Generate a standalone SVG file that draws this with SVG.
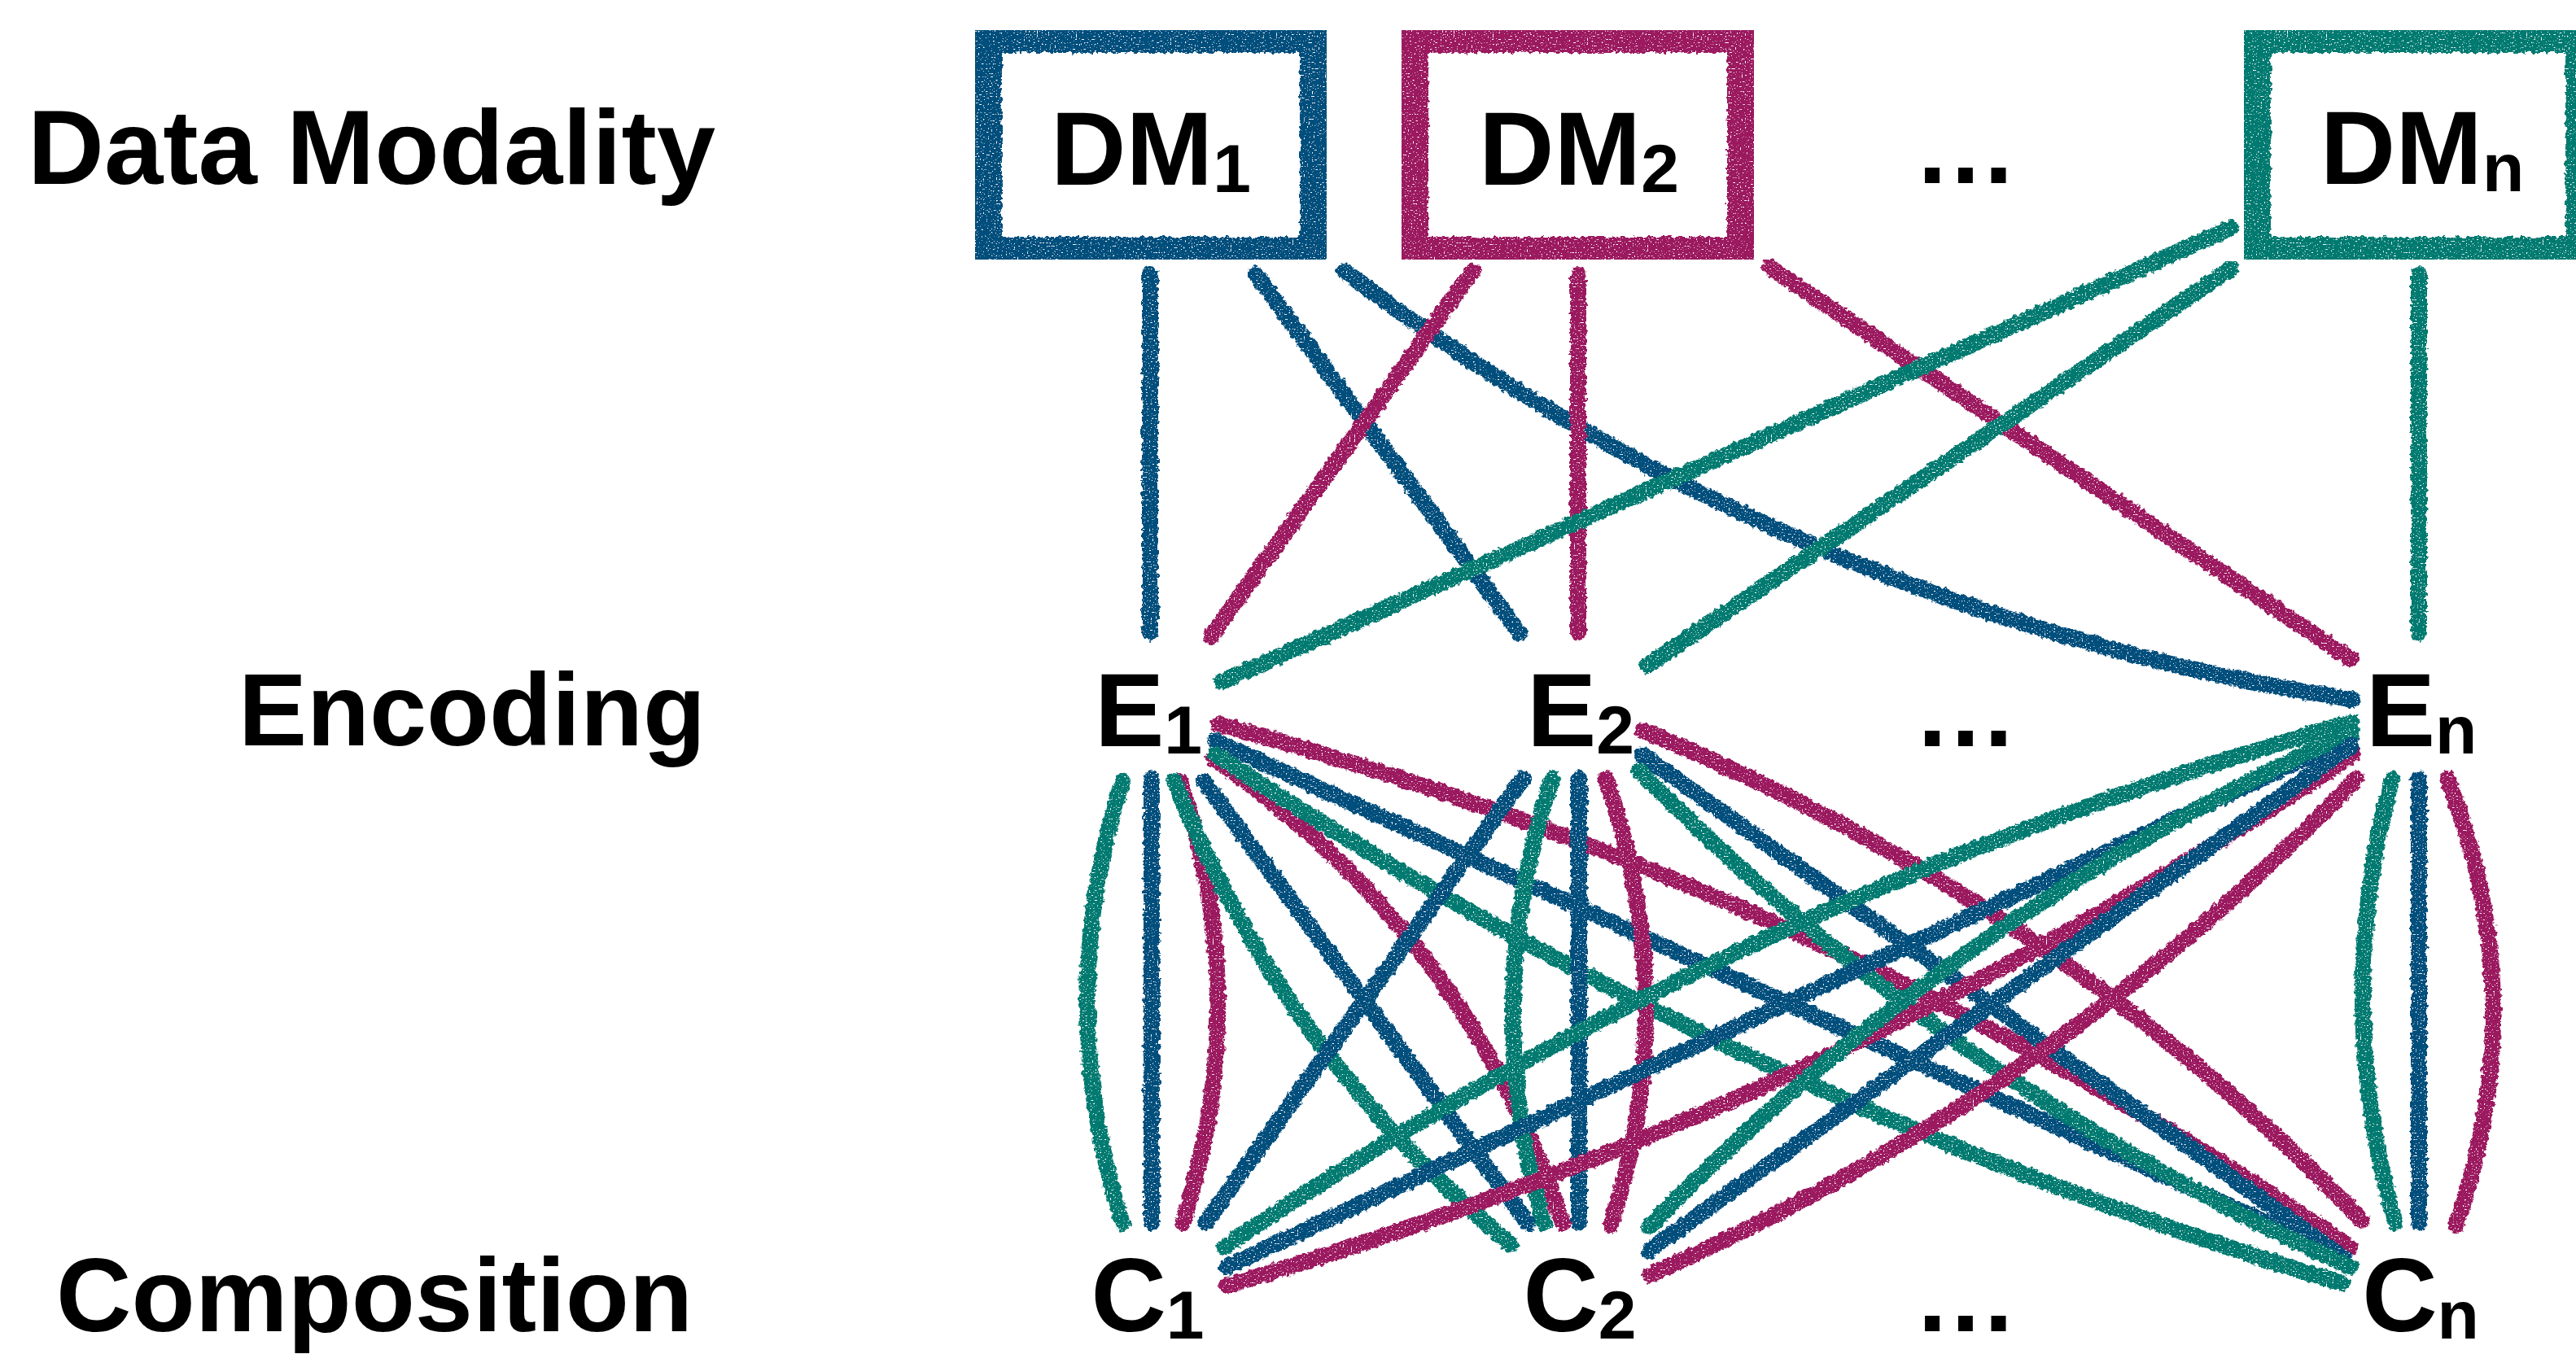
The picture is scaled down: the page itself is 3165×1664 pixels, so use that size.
<svg xmlns="http://www.w3.org/2000/svg" width="3165" height="1664" viewBox="0 0 3165 1664">
<defs>
<style>
.lbl{font-family:"Liberation Sans",Arial,Helvetica,sans-serif;font-weight:bold;fill:#000}
.big{font-size:128px}
.sub{font-size:84px}
.edge{fill:none;stroke-width:20;stroke-linecap:round;stroke-linejoin:round}
.box{fill:none;stroke-width:40;stroke-linejoin:miter}
.b{stroke:#004E7C}
.m{stroke:#9B195F}
.t{stroke:#007A70}
</style>
<filter id="crayon" x="-3%" y="-3%" width="106%" height="106%" color-interpolation-filters="sRGB">
<feTurbulence type="fractalNoise" baseFrequency="0.18" numOctaves="2" seed="4" result="warp"/>
<feDisplacementMap in="SourceGraphic" in2="warp" scale="8" xChannelSelector="R" yChannelSelector="G" result="rough"/>
<feTurbulence type="fractalNoise" baseFrequency="0.5" numOctaves="2" seed="11" result="grain"/>
<feColorMatrix in="grain" type="matrix" values="0 0 0 0 0  0 0 0 0 0  0 0 0 0 0  12 0 0 0 -3.2" result="mask"/>
<feComposite in="rough" in2="mask" operator="in"/>
</filter>
</defs>
<rect width="3165" height="1664" fill="#fff"/>

<g id="row-labels" class="lbl">
<text id="label-data-modality" x="34" y="226" font-size="130">Data Modality</text>
<text id="label-encoding" x="293" y="916" font-size="126">Encoding</text>
<text id="label-composition" x="69" y="1636" font-size="128">Composition</text>
</g>

<g id="connectors" filter="url(#crayon)">
<path id="dm1-e1" class="edge b" d="M1413 337 L1413 778"/>
<path id="dm1-e2" class="edge b" d="M1543 337 L1867 778"/>
<path id="dm1-en" class="edge b" d="M1652 333 Q2205 753 2891 860"/>
<path id="dm2-e1" class="edge m" d="M1809 333 L1488 782"/>
<path id="dm2-e2" class="edge m" d="M1939 337 L1939 777"/>
<path id="dm2-en" class="edge m" d="M2174 328 L2888 810"/>
<path id="dmn-e1" class="edge t" d="M2741 280 L1501 838"/>
<path id="dmn-e2" class="edge t" d="M2741 330 L2024 818"/>
<path id="dmn-en" class="edge t" d="M2972 337 L2972 778"/>

<path id="e1-c1-t" class="edge t" d="M1379 960 Q1293 1231 1379 1503"/>
<path id="e1-c1-b" class="edge b" d="M1415 957 L1415 1503"/>
<path id="e1-c1-m" class="edge m" d="M1450 960 Q1541 1231 1453 1503"/>
<path id="e1-c2-t" class="edge t" d="M1443 960 Q1577 1297 1856 1529"/>
<path id="e1-c2-b" class="edge b" d="M1479 960 L1877 1503"/>
<path id="e1-c2-m" class="edge m" d="M1491 932 Q1801 1145 1920 1503"/>
<path id="e1-cn-m" class="edge m" d="M1497 890 Q2247 1093 2888 1533"/>
<path id="e1-cn-b" class="edge b" d="M1493 910 L2881 1547"/>
<path id="e1-cn-t" class="edge t" d="M1493 927 Q2137 1355 2878 1577"/>

<path id="e2-c1-b" class="edge b" d="M1871 957 L1481 1503"/>
<path id="e2-c2-t" class="edge t" d="M1907 957 Q1816 1230 1897 1503"/>
<path id="e2-c2-b" class="edge b" d="M1940 957 L1940 1503"/>
<path id="e2-c2-m" class="edge m" d="M1973 957 Q2068 1231 1979 1506"/>
<path id="e2-cn-m" class="edge m" d="M2019 898 Q2524 1106 2902 1500"/>
<path id="e2-cn-b" class="edge b" d="M2017 927 L2881 1547"/>
<path id="e2-cn-t" class="edge t" d="M2014 947 Q2394 1334 2888 1557"/>

<path id="en-c1-t" class="edge t" d="M2889 888 Q2143 1096 1504 1533"/>
<path id="en-c1-b" class="edge b" d="M2889 905 L1507 1557"/>
<path id="en-c1-m" class="edge m" d="M2891 927 Q2250 1362 1507 1580"/>
<path id="en-c2-t" class="edge t" d="M2889 900 Q2400 1122 2026 1508"/>
<path id="en-c2-b" class="edge b" d="M2889 916 L2026 1537"/>
<path id="en-c2-m" class="edge m" d="M2895 957 Q2521 1347 2027 1567"/>
<path id="en-cn-t" class="edge t" d="M2939 957 Q2865 1230 2943 1503"/>
<path id="en-cn-b" class="edge b" d="M2972 957 L2972 1503"/>
<path id="en-cn-m" class="edge m" d="M3007 957 Q3114 1231 3017 1506"/>
</g>

<g id="node-dm1">
<rect class="box b" x="1211" y="45" width="406" height="266" filter="url(#crayon)"/>
<text class="lbl big" x="1414" y="227" text-anchor="middle">DM<tspan class="sub" dy="9">1</tspan></text>
</g>
<g id="node-dm2">
<rect class="box m" x="1735" y="45" width="407" height="266" filter="url(#crayon)"/>
<text class="lbl big" x="1940" y="227" text-anchor="middle">DM<tspan class="sub" dy="9">2</tspan></text>
</g>
<g id="node-dm-ellipsis">
<text class="lbl big" x="2415" y="225" text-anchor="middle">…</text>
</g>
<g id="node-dmn">
<rect class="box t" x="2770" y="45" width="402" height="266" filter="url(#crayon)"/>
<text class="lbl big" x="2976" y="226" text-anchor="middle">DM<tspan class="sub" dy="9">n</tspan></text>
</g>

<g id="node-e1"><text class="lbl big" x="1411" y="917" text-anchor="middle">E<tspan class="sub" dy="9">1</tspan></text></g>
<g id="node-e2"><text class="lbl big" x="1942" y="917" text-anchor="middle">E<tspan class="sub" dy="9">2</tspan></text></g>
<g id="node-e-ellipsis"><text class="lbl big" x="2415" y="917" text-anchor="middle">…</text></g>
<g id="node-en"><text class="lbl big" x="2975" y="917" text-anchor="middle">E<tspan class="sub" dy="9">n</tspan></text></g>

<g id="node-c1"><text class="lbl big" x="1410" y="1636" text-anchor="middle">C<tspan class="sub" dy="9">1</tspan></text></g>
<g id="node-c2"><text class="lbl big" x="1941" y="1636" text-anchor="middle">C<tspan class="sub" dy="9">2</tspan></text></g>
<g id="node-c-ellipsis"><text class="lbl big" x="2415" y="1636" text-anchor="middle">…</text></g>
<g id="node-cn"><text class="lbl big" x="2974" y="1636" text-anchor="middle">C<tspan class="sub" dy="9">n</tspan></text></g>
</svg>
